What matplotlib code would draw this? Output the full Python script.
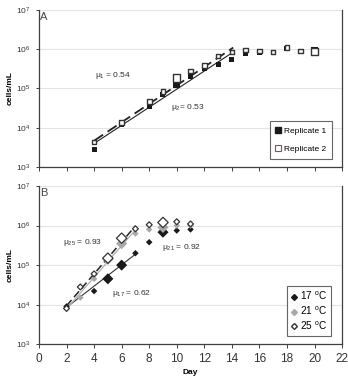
import numpy as np
import matplotlib
matplotlib.use('Agg')
import matplotlib.pyplot as plt
from matplotlib.lines import Line2D

plt.rcParams['font.family'] = ['Liberation Sans', 'DejaVu Sans']

# Panel A - two replicates
days_r1 = [4, 6, 8, 9, 10, 11, 12, 13, 14, 15, 16, 18, 20]
rep1 = [2.8e3, 1.25e4, 3.5e4, 7.0e4, 1.27e5, 2.0e5, 3.2e5, 4.0e5, 5.4e5, 7.9e5, 8.2e5, 1.02e6, 8.9e5]
days_r2 = [4, 6, 8, 9, 10, 11, 12, 13, 14, 15, 16, 17, 18, 19, 20]
rep2 = [4.4e3, 1.35e4, 4.7e4, 8.5e4, 1.85e5, 2.8e5, 3.8e5, 6.7e5, 8.5e5, 9.5e5, 9.0e5, 8.5e5, 1.1e6, 9.0e5, 8.5e5]
mu1, mu2 = 0.54, 0.53        # fitted rates from the figure
fit1_start, fit2_start = 4.7e3, 4.0e3

# Panel B - temperatures
days_t = [2, 3, 4, 5, 6, 7, 8, 9, 10, 11]
t17 = [9.0e3, None, 2.2e4, 4.5e4, 1.0e5, 2.0e5, 3.8e5, 6.8e5, 7.5e5, 8.0e5]
t21 = [8.0e3, 1.5e4, 4.5e4, 1.4e5, 3.5e5, 6.3e5, 8.0e5, 9.0e5, 1.0e6, 1.0e6]
t25 = [8.0e3, 2.8e4, 6.0e4, 1.5e5, 4.8e5, 8.3e5, 1.05e6, 1.2e6, 1.25e6, 1.1e6]
mu17, mu21, mu25 = 0.62, 0.92, 0.93
fit_start_B = 8.5e3

fig = plt.figure(figsize=(3.48, 3.79), dpi=100)
axA = fig.add_axes([0.112, 0.559, 0.871, 0.415])
axB = fig.add_axes([0.112, 0.092, 0.871, 0.417])

def style_axes(ax):
    ax.set_yscale('log')
    ax.set_ylim(1e3, 1e7)
    ax.set_xlim(0, 22)
    ax.set_xticks(range(0, 23, 2))
    ax.set_yticks([1e3, 1e4, 1e5, 1e6, 1e7])
    ax.minorticks_off()
    ax.yaxis.grid(True, color='#e4e4e4', linewidth=0.8)
    ax.set_axisbelow(True)
    ax.spines['top'].set_visible(False)
    for s in ['left', 'bottom', 'right']:
        ax.spines[s].set_color('#404040')
        ax.spines[s].set_linewidth(0.9)
    ax.tick_params(axis='y', labelsize=6, length=2.5, width=0.7, colors='#404040', labelcolor='#333333')
    ax.tick_params(axis='x', length=3, width=0.7, colors='#404040', labelcolor='#333333')
    ax.set_ylabel('cells/mL', fontsize=6, fontweight='bold', labelpad=2)

style_axes(axA)
style_axes(axB)
axA.tick_params(axis='x', labelbottom=False)
axB.tick_params(axis='x', labelsize=8.5)
axB.set_xlabel('Day', fontsize=6, fontweight='bold', labelpad=3)

# ---- panel A
d1 = np.array(days_r1); d2 = np.array(days_r2)
big1 = np.isin(d1, [10, 20]); big2 = np.isin(d2, [10, 20])
axA.scatter(d1, rep1, s=np.where(big1, 28, 13), marker='s', color='#1a1a1a', linewidths=0, zorder=3)
axA.scatter(d2, rep2, s=np.where(big2, 26, 11), marker='s', facecolor='white',
            edgecolor='#333333', linewidths=1.0, zorder=4)
tt = np.linspace(4, 14, 50)
axA.plot(tt, fit2_start*np.exp(mu2*(tt-4)), color='#222222', lw=0.8, zorder=2)
tt = np.linspace(4, 14.1, 50)
axA.plot(tt, fit1_start*np.exp(mu1*(tt-4)), color='#222222', lw=1.3, ls=(0, (6, 3)), zorder=2)
axA.text(4.1, 2.1e5, r'$\mathregular{\mu_1}$ = 0.54', fontsize=6, color='#333333', va='center')
axA.text(9.6, 3.2e4, r'$\mathregular{\mu_2}$= 0.53', fontsize=6, color='#333333', va='center')
axA.text(0.1, 6.5e6, 'A', fontsize=8, color='#444444', va='center')
hA = [Line2D([], [], marker='s', ls='none', color='#1a1a1a', markersize=4, label='Replicate 1'),
      Line2D([], [], marker='s', ls='none', markerfacecolor='white', markeredgecolor='#a04848',
             markersize=4, markeredgewidth=0.8, label='Replicate 2')]
legA = axA.legend(handles=hA, loc='lower right', bbox_to_anchor=(0.98, 0.025), fontsize=6,
                  frameon=True, fancybox=False, edgecolor='#404040', handlelength=0.6,
                  handletextpad=0.4, labelspacing=1.3, borderpad=0.7)
legA.get_frame().set_linewidth(0.8)

# ---- panel B
dt = np.array(days_t)
big = np.isin(dt, [5, 6, 9])
m17 = np.array([v is not None for v in t17])
v17 = np.array([v if v is not None else np.nan for v in t17], dtype=float)
axB.scatter(dt[m17], v17[m17], s=np.where(big[m17], 32, 11), marker='D', color='#1a1a1a', linewidths=0, zorder=3)
axB.scatter(dt, t21, s=np.where(big, 32, 11), marker='D', color='#a8a8a8', linewidths=0, zorder=4)
axB.scatter(dt, t25, s=np.where(big, 28, 9), marker='D', facecolor='white',
            edgecolor='#333333', linewidths=0.9, zorder=5)
tt = np.linspace(2, 7, 50)
axB.plot(tt, fit_start_B*np.exp(mu17*(tt-2)), color='#333333', lw=0.8, zorder=2)
axB.plot(tt, fit_start_B*np.exp(mu21*(tt-2)) * 0.92, color='#b0b0b0', lw=0.9, zorder=2)
axB.plot(tt, fit_start_B*np.exp(mu25*(tt-2)) * 1.1, color='#222222', lw=1.1, ls=(0, (5, 2.5)), zorder=2)
axB.text(1.75, 3.8e5, r'$\mathregular{\mu_{25}}$ = 0.93', fontsize=6, color='#333333', va='center')
axB.text(8.9, 2.8e5, r'$\mathregular{\mu_{21}}$ = 0.92', fontsize=6, color='#333333', va='center')
axB.text(5.3, 1.95e4, r'$\mathregular{\mu_{17}}$ = 0.62', fontsize=6, color='#333333', va='center')
axB.text(0.1, 6.5e6, 'B', fontsize=8, color='#444444', va='center')
hB = [Line2D([], [], marker='D', ls='none', color='#1a1a1a', markersize=3, label=r'17 $\mathregular{^{o}}$C'),
      Line2D([], [], marker='D', ls='none', color='#a8a8a8', markersize=3, label=r'21 $\mathregular{^{o}}$C'),
      Line2D([], [], marker='D', ls='none', markerfacecolor='white', markeredgecolor='#333333',
             markersize=3, label=r'25 $\mathregular{^{o}}$C')]
legB = axB.legend(handles=hB, loc='lower right', bbox_to_anchor=(0.98, 0.02), fontsize=7.2,
                  frameon=True, fancybox=False, edgecolor='#404040', handlelength=0.5,
                  handletextpad=0.4, labelspacing=0.25, borderpad=0.4)
legB.get_frame().set_linewidth(0.8)

fig.savefig('out.png', dpi=100)
